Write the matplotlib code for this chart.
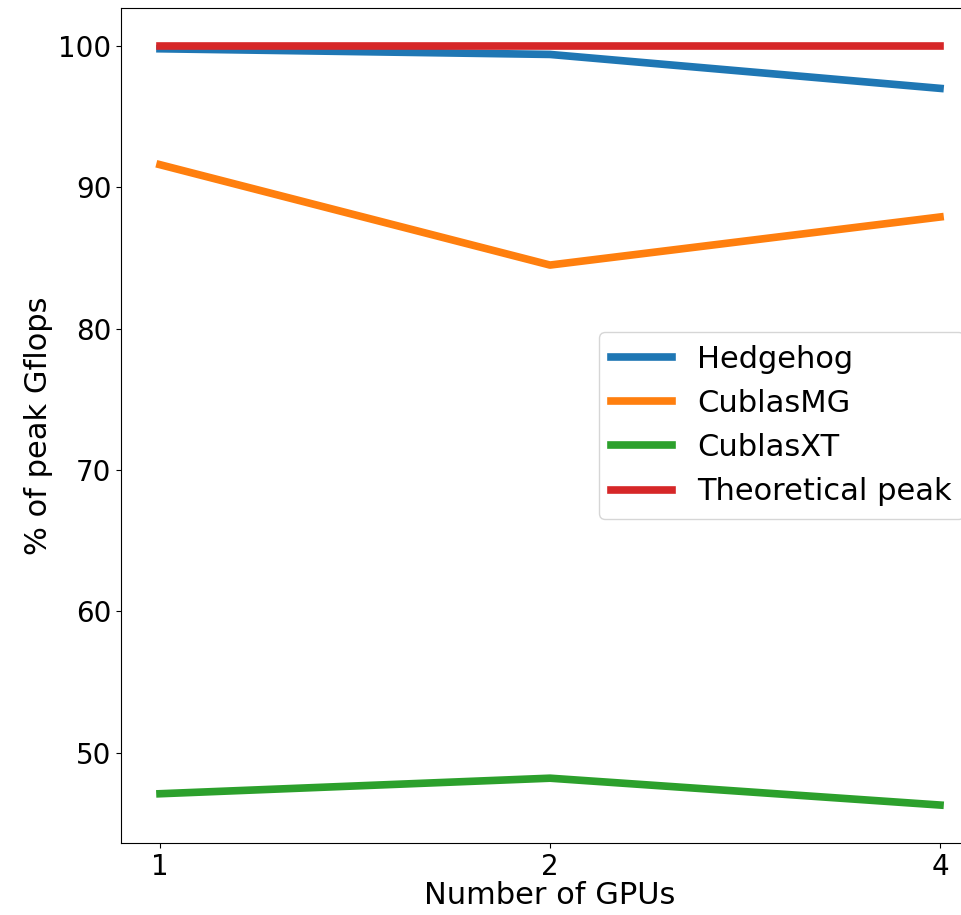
import matplotlib
matplotlib.use("Agg")
import matplotlib.pyplot as plt

# GPU counts plotted at evenly spaced positions
gpu_labels = ["1", "2", "4"]
hedgehog = [99.8, 99.4, 97.0]
cublas_mg = [91.6, 84.5, 87.9]
cublas_xt = [47.1, 48.2, 46.3]
theoretical_peak = [100.0, 100.0, 100.0]

plt.rcParams.update({"font.size": 22, "xtick.labelsize": 20, "ytick.labelsize": 20})

fig = plt.figure(figsize=(9.61, 9.15), dpi=100)
# axes run past the right edge of the canvas, as in the cropped reference
ax = fig.add_axes([121 / 961, 72 / 915, 858 / 961, 835 / 915])

x = range(len(gpu_labels))
ax.plot(x, hedgehog, color="#1f77b4", linewidth=5.5, label="Hedgehog")
ax.plot(x, cublas_mg, color="#ff7f0e", linewidth=5.5, label="CublasMG")
ax.plot(x, cublas_xt, color="#2ca02c", linewidth=5.5, label="CublasXT")
ax.plot(x, theoretical_peak, color="#d62728", linewidth=5.5, label="Theoretical peak")

ax.set_xticks(list(x))
ax.set_xticklabels(gpu_labels)
ax.set_xlabel("Number of GPUs", labelpad=0)
ax.set_ylabel("% of peak Gflops")
ax.legend(loc="center right")

fig.savefig("out.png", dpi=100)
